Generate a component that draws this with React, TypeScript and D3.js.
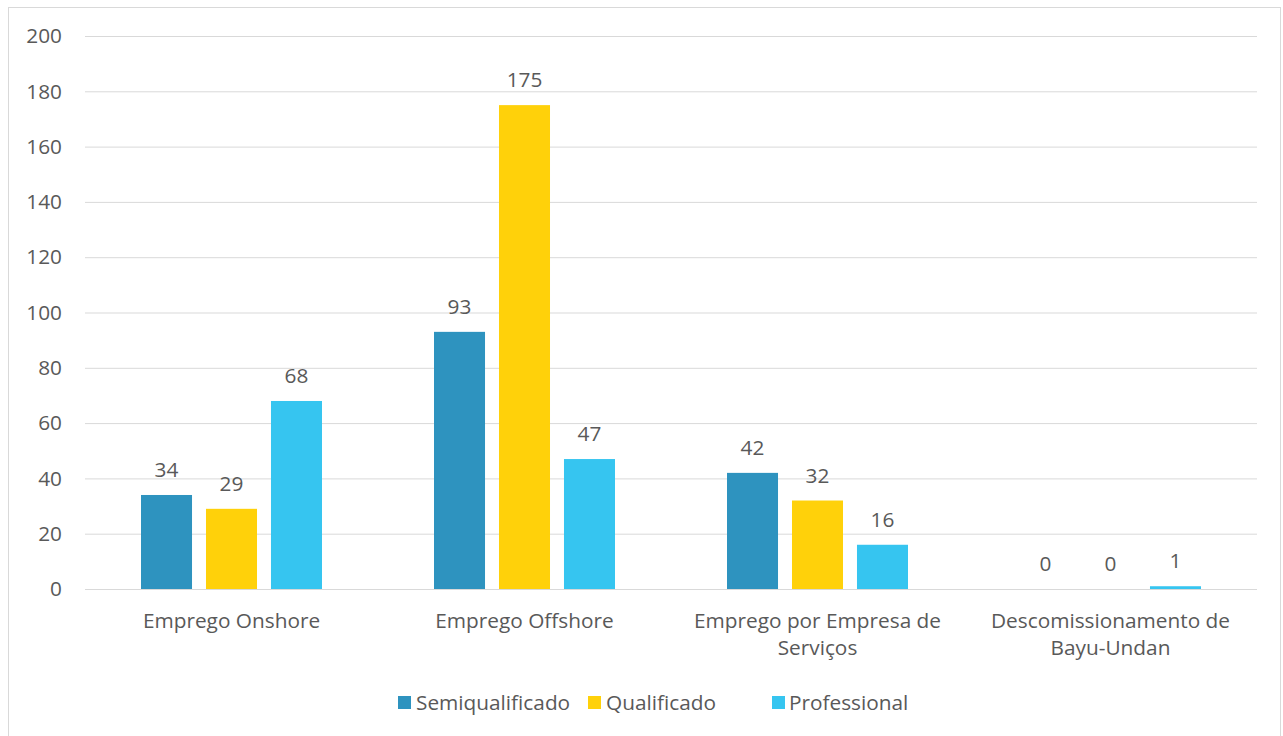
import React from "react";
import * as d3 from "d3";

const categories = [
  ["Emprego Onshore"],
  ["Emprego Offshore"],
  ["Emprego por Empresa de", "Serviços"],
  ["Descomissionamento de", "Bayu-Undan"],
];
const seriesNames = ["Semiqualificado", "Qualificado", "Professional"];
const semiqualificado = [34, 93, 42, 0];
const qualificado = [29, 175, 32, 0];
const professional = [68, 47, 16, 1];
const yTicks = [0, 20, 40, 60, 80, 100, 120, 140, 160, 180, 200];
const colors = ["#2E93BF", "#FFD10A", "#36C5F0"];

export default function App() {
  const W = 1283, H = 736;
  const left = 85, right = 1257, top = 36, bottom = 589;
  const font = "'Open Sans', sans-serif";
  const fs = 20.8;
  const textColor = "#595959";
  const series = [semiqualificado, qualificado, professional];
  const x0 = d3.scaleBand<number>().domain(d3.range(categories.length)).range([left, right]).paddingInner(0).paddingOuter(0);
  const x1 = d3.scaleBand<number>().domain([0, 1, 2]).range([56, x0.bandwidth() - 56]).paddingInner(0.215).paddingOuter(0);
  const y = d3.scaleLinear().domain([0, 200]).range([bottom, top]);

  const legendItems = [
    { sq: 398, tx: 416 },
    { sq: 588, tx: 606 },
    { sq: 772, tx: 789 },
  ];

  return (
    <svg width={W} height={H} style={{ position: "absolute", left: 0, top: 0 }} fontFamily={font}>
      <rect x={0} y={0} width={W} height={H} fill="#fff" />
      <rect x={8.5} y={7.5} width={1272} height={740} fill="#fff" stroke="#D9D9D9" strokeWidth={1} />
      {yTicks.map((t) => (
        <g key={t}>
          <line x1={left} x2={right} y1={y(t) + 0.5} y2={y(t) + 0.5} stroke="#D9D9D9" strokeWidth={1} />
          <text x={62} y={y(t)} dy="0.35em" textAnchor="end" fontSize={fs} fill={textColor}>{t}</text>
        </g>
      ))}
      {categories.map((c, i) =>
        series.map((s, j) => {
          const v = s[i];
          const bx = (x0(i) as number) + (x1(j) as number);
          const bw = x1.bandwidth();
          return (
            <g key={`${i}-${j}`}>
              {v > 0 && <rect x={bx} y={y(v)} width={bw} height={bottom - y(v)} fill={colors[j]} />}
              <text x={bx + bw / 2} y={y(v) - 18} textAnchor="middle" fontSize={fs} fill={textColor}>{v}</text>
            </g>
          );
        })
      )}
      {categories.map((c, i) => (
        <text key={i} x={(x0(i) as number) + x0.bandwidth() / 2} y={628} textAnchor="middle" fontSize={fs} fill={textColor}>
          {c.map((l, k) => (
            <tspan key={k} x={(x0(i) as number) + x0.bandwidth() / 2} dy={k === 0 ? 0 : 27}>{l}</tspan>
          ))}
        </text>
      ))}
      {seriesNames.map((n, j) => (
        <g key={n}>
          <rect x={legendItems[j].sq} y={696} width={13} height={13} fill={colors[j]} />
          <text x={legendItems[j].tx} y={710} fontSize={fs} fill={textColor}>{n}</text>
        </g>
      ))}
    </svg>
  );
}
